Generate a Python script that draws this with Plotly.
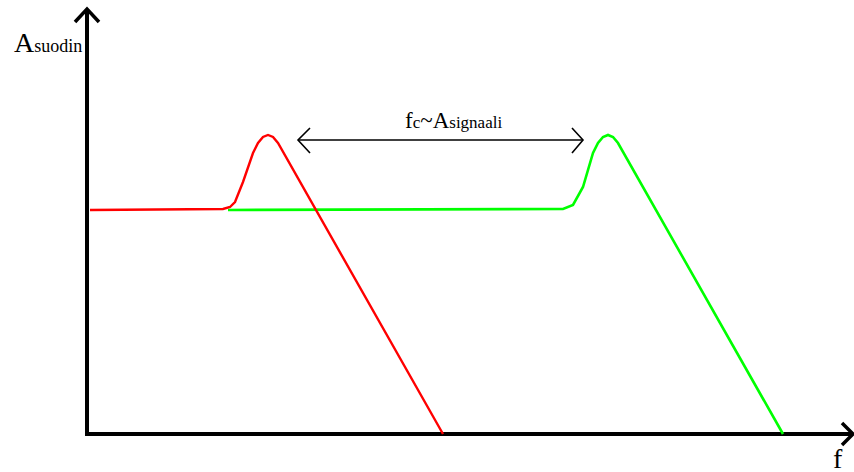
import plotly.graph_objects as go

# Canvas-like units: x to the right, y upward (0 at bottom of picture)
H = 472

# Red filter response (low cutoff)
red_x = [90, 223, 230, 235, 243, 253, 258, 263, 268, 273, 278, 443]
red_y = [210, 209, 207, 202, 182, 153, 143, 137, 135, 137, 143, 434]

# Green filter response (high cutoff)
green_x = [228, 563, 573, 583, 593, 598, 603, 608, 613, 618, 783]
green_y = [210, 209, 205, 187, 153, 143, 137, 135, 137, 143, 434]

# Axes (with arrow heads)
yaxis_x = [87, 87]
yaxis_y = [436, 9]
yhead_x = [75, 87, 99]
yhead_y = [22, 9, 22]
xaxis_x = [85, 853]
xaxis_y = [434, 434]
xhead_x = [842, 853, 842]
xhead_y = [423, 434, 445]

# Double arrow between peaks
darr_x = [298, 583]
darr_y = [140, 140]
lhead_x = [310, 298, 310]
lhead_y = [128, 140, 153]
rhead_x = [572, 583, 572]
rhead_y = [128, 140, 153]

def flip(ys):
    return [H - v for v in ys]

fig = go.Figure()
for xs, ys, w in [(yaxis_x, yaxis_y, 4), (yhead_x, yhead_y, 3.5),
                  (xaxis_x, xaxis_y, 4), (xhead_x, xhead_y, 3.5)]:
    fig.add_trace(go.Scatter(x=xs, y=flip(ys), mode="lines",
                             line=dict(color="black", width=w), hoverinfo="skip"))
for xs, ys in [(darr_x, darr_y), (lhead_x, lhead_y), (rhead_x, rhead_y)]:
    fig.add_trace(go.Scatter(x=xs, y=flip(ys), mode="lines",
                             line=dict(color="black", width=1.6), hoverinfo="skip"))

fig.add_trace(go.Scatter(x=green_x, y=flip(green_y), mode="lines",
                         line=dict(color="#00ff00", width=2.6), hoverinfo="skip"))
fig.add_trace(go.Scatter(x=red_x, y=flip(red_y), mode="lines",
                         line=dict(color="#ff0000", width=2.4), hoverinfo="skip"))

serif = "Liberation Serif, DejaVu Serif, serif"
fig.add_annotation(x=12, y=H - 42, xanchor="left", yanchor="middle", showarrow=False,
                   text="A<span style='font-size:18px'>suodin</span>",
                   font=dict(family=serif, size=28, color="black"))
fig.add_annotation(x=453, y=H - 120, xanchor="center", yanchor="middle", showarrow=False,
                   text="f<span style='font-size:17px'>c</span>~A<span style='font-size:17px'>signaali</span>",
                   font=dict(family=serif, size=23, color="black"))
fig.add_annotation(x=838, y=H - 458, xanchor="center", yanchor="middle", showarrow=False,
                   text="f", font=dict(family=serif, size=28, color="black"))

fig.update_layout(
    width=854, height=472, margin=dict(l=0, r=0, t=0, b=0),
    paper_bgcolor="white", plot_bgcolor="white", showlegend=False,
    xaxis=dict(range=[0, 854], visible=False, fixedrange=True),
    yaxis=dict(range=[0, 472], visible=False, fixedrange=True),
)
fig.write_html("out.html", config={"displayModeBar": False},
               post_script="document.body.style.margin='0px';document.body.style.overflow='hidden';")
